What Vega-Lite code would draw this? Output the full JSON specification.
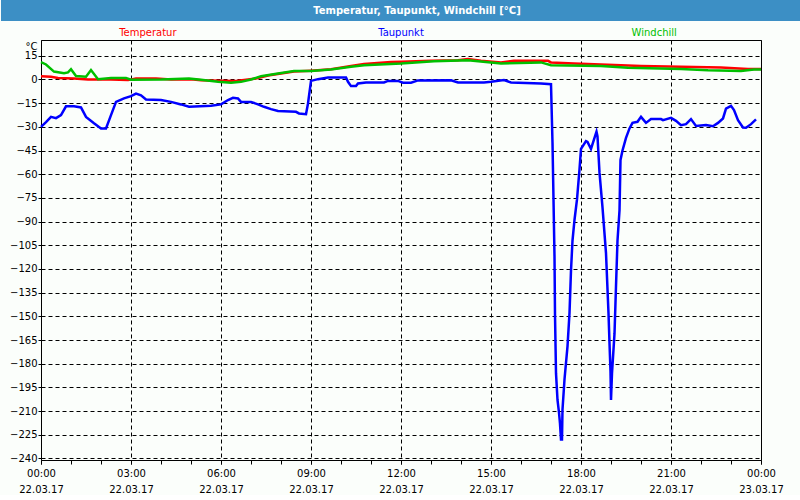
{
  "$schema": "https://vega.github.io/schema/vega-lite/v6.json",
  "background": "#fbfefb",
  "padding": 0,
  "spacing": 0,
  "bounds": "flush",
  "center": true,
  "config": {"font": "DejaVu Sans", "view": {"stroke": null}},
  "datasets": {
    "names": [{"s": "Temperatur"}, {"s": "Taupunkt"}, {"s": "Windchill"}]
  },
  "vconcat": [
    {
      "width": 800,
      "height": 21,
      "view": {"fill": "#3c8fc5", "stroke": null},
      "data": {"values": [{"title": "Temperatur, Taupunkt, Windchill [°C]"}]},
      "mark": {"type": "text", "font": "DejaVu Sans", "fontWeight": "bold", "fontSize": 10, "color": "#ffffff", "dx": 16, "baseline": "middle"},
      "encoding": {"text": {"field": "title", "type": "nominal"}}
    },
    {
      "width": 800,
      "height": 19,
      "view": {"fill": "#fbfefb", "stroke": null},
      "data": {"name": "names"},
      "mark": {"type": "text", "font": "DejaVu Sans", "fontSize": 10, "baseline": "middle", "dy": 2.5},
      "encoding": {
        "x": {"field": "s", "type": "nominal", "sort": null, "scale": {"type": "point", "padding": 0.58}, "axis": null},
        "text": {"field": "s", "type": "nominal"},
        "color": {"field": "s", "type": "nominal", "legend": null, "scale": {"domain": ["Temperatur", "Taupunkt", "Windchill"], "range": ["#ff0000", "#0000ff", "#00c000"]}}
      }
    },
    {
      "width": 720,
      "height": 420,
      "view": {"stroke": "#000000", "strokeWidth": 1},
      "resolve": {"axis": {"x": "independent"}},
      "data": {"values": [
        {"t": "2017-03-22T00:00", "s": "Temperatur", "v": 2.1},
        {"t": "2017-03-22T00:20", "s": "Temperatur", "v": 1.7},
        {"t": "2017-03-22T00:34", "s": "Temperatur", "v": 1.0},
        {"t": "2017-03-22T01:06", "s": "Temperatur", "v": 0.6},
        {"t": "2017-03-22T01:34", "s": "Temperatur", "v": 0.0},
        {"t": "2017-03-22T02:20", "s": "Temperatur", "v": 0.0},
        {"t": "2017-03-22T02:54", "s": "Temperatur", "v": -0.4},
        {"t": "2017-03-22T03:10", "s": "Temperatur", "v": 0.6},
        {"t": "2017-03-22T03:50", "s": "Temperatur", "v": 0.6},
        {"t": "2017-03-22T04:20", "s": "Temperatur", "v": 0.0},
        {"t": "2017-03-22T05:00", "s": "Temperatur", "v": 0.2},
        {"t": "2017-03-22T05:20", "s": "Temperatur", "v": -0.5},
        {"t": "2017-03-22T06:00", "s": "Temperatur", "v": -0.8},
        {"t": "2017-03-22T06:30", "s": "Temperatur", "v": -1.0},
        {"t": "2017-03-22T06:50", "s": "Temperatur", "v": -0.2},
        {"t": "2017-03-22T07:10", "s": "Temperatur", "v": 0.6},
        {"t": "2017-03-22T07:34", "s": "Temperatur", "v": 2.5},
        {"t": "2017-03-22T08:00", "s": "Temperatur", "v": 3.8},
        {"t": "2017-03-22T08:26", "s": "Temperatur", "v": 5.0},
        {"t": "2017-03-22T09:00", "s": "Temperatur", "v": 5.6},
        {"t": "2017-03-22T09:40", "s": "Temperatur", "v": 6.5},
        {"t": "2017-03-22T10:20", "s": "Temperatur", "v": 8.5},
        {"t": "2017-03-22T10:46", "s": "Temperatur", "v": 9.8},
        {"t": "2017-03-22T11:40", "s": "Temperatur", "v": 11.0},
        {"t": "2017-03-22T12:00", "s": "Temperatur", "v": 11.3},
        {"t": "2017-03-22T13:00", "s": "Temperatur", "v": 11.8},
        {"t": "2017-03-22T13:54", "s": "Temperatur", "v": 12.2},
        {"t": "2017-03-22T14:14", "s": "Temperatur", "v": 12.9},
        {"t": "2017-03-22T14:40", "s": "Temperatur", "v": 11.8},
        {"t": "2017-03-22T15:20", "s": "Temperatur", "v": 10.8},
        {"t": "2017-03-22T15:46", "s": "Temperatur", "v": 11.8},
        {"t": "2017-03-22T16:54", "s": "Temperatur", "v": 11.8},
        {"t": "2017-03-22T17:00", "s": "Temperatur", "v": 10.8},
        {"t": "2017-03-22T17:46", "s": "Temperatur", "v": 10.1},
        {"t": "2017-03-22T18:40", "s": "Temperatur", "v": 9.5},
        {"t": "2017-03-22T20:00", "s": "Temperatur", "v": 8.6},
        {"t": "2017-03-22T21:20", "s": "Temperatur", "v": 8.0},
        {"t": "2017-03-22T22:40", "s": "Temperatur", "v": 7.6},
        {"t": "2017-03-22T23:34", "s": "Temperatur", "v": 6.7},
        {"t": "2017-03-23T00:00", "s": "Temperatur", "v": 6.7},

        {"t": "2017-03-22T00:00", "s": "Taupunkt", "v": -30},
        {"t": "2017-03-22T00:10", "s": "Taupunkt", "v": -27},
        {"t": "2017-03-22T00:20", "s": "Taupunkt", "v": -23.7},
        {"t": "2017-03-22T00:30", "s": "Taupunkt", "v": -24.5},
        {"t": "2017-03-22T00:40", "s": "Taupunkt", "v": -22.6},
        {"t": "2017-03-22T00:50", "s": "Taupunkt", "v": -17},
        {"t": "2017-03-22T01:06", "s": "Taupunkt", "v": -17},
        {"t": "2017-03-22T01:20", "s": "Taupunkt", "v": -17.7},
        {"t": "2017-03-22T01:30", "s": "Taupunkt", "v": -23.7},
        {"t": "2017-03-22T01:46", "s": "Taupunkt", "v": -27.7},
        {"t": "2017-03-22T02:00", "s": "Taupunkt", "v": -31},
        {"t": "2017-03-22T02:10", "s": "Taupunkt", "v": -31},
        {"t": "2017-03-22T02:20", "s": "Taupunkt", "v": -22.6},
        {"t": "2017-03-22T02:30", "s": "Taupunkt", "v": -14.2},
        {"t": "2017-03-22T02:46", "s": "Taupunkt", "v": -12},
        {"t": "2017-03-22T03:00", "s": "Taupunkt", "v": -10.6},
        {"t": "2017-03-22T03:10", "s": "Taupunkt", "v": -8.9},
        {"t": "2017-03-22T03:20", "s": "Taupunkt", "v": -10},
        {"t": "2017-03-22T03:30", "s": "Taupunkt", "v": -12.7},
        {"t": "2017-03-22T04:00", "s": "Taupunkt", "v": -13},
        {"t": "2017-03-22T04:20", "s": "Taupunkt", "v": -14.2},
        {"t": "2017-03-22T04:40", "s": "Taupunkt", "v": -15.8},
        {"t": "2017-03-22T04:56", "s": "Taupunkt", "v": -17.3},
        {"t": "2017-03-22T05:40", "s": "Taupunkt", "v": -16.7},
        {"t": "2017-03-22T06:00", "s": "Taupunkt", "v": -15.8},
        {"t": "2017-03-22T06:14", "s": "Taupunkt", "v": -13},
        {"t": "2017-03-22T06:24", "s": "Taupunkt", "v": -11.6},
        {"t": "2017-03-22T06:34", "s": "Taupunkt", "v": -12},
        {"t": "2017-03-22T06:40", "s": "Taupunkt", "v": -14.2},
        {"t": "2017-03-22T07:00", "s": "Taupunkt", "v": -14.2},
        {"t": "2017-03-22T07:14", "s": "Taupunkt", "v": -15.8},
        {"t": "2017-03-22T07:26", "s": "Taupunkt", "v": -17.3},
        {"t": "2017-03-22T07:40", "s": "Taupunkt", "v": -18.8},
        {"t": "2017-03-22T07:54", "s": "Taupunkt", "v": -20},
        {"t": "2017-03-22T08:30", "s": "Taupunkt", "v": -20.5},
        {"t": "2017-03-22T08:36", "s": "Taupunkt", "v": -21.5},
        {"t": "2017-03-22T08:50", "s": "Taupunkt", "v": -22},
        {"t": "2017-03-22T08:54", "s": "Taupunkt", "v": -15.2},
        {"t": "2017-03-22T09:00", "s": "Taupunkt", "v": -0.9},
        {"t": "2017-03-22T09:14", "s": "Taupunkt", "v": 0.2},
        {"t": "2017-03-22T09:34", "s": "Taupunkt", "v": 1.3},
        {"t": "2017-03-22T10:10", "s": "Taupunkt", "v": 1.3},
        {"t": "2017-03-22T10:14", "s": "Taupunkt", "v": -1.5},
        {"t": "2017-03-22T10:20", "s": "Taupunkt", "v": -4.2},
        {"t": "2017-03-22T10:30", "s": "Taupunkt", "v": -4.2},
        {"t": "2017-03-22T10:34", "s": "Taupunkt", "v": -2.5},
        {"t": "2017-03-22T10:50", "s": "Taupunkt", "v": -1.9},
        {"t": "2017-03-22T11:26", "s": "Taupunkt", "v": -1.9},
        {"t": "2017-03-22T11:34", "s": "Taupunkt", "v": -0.9},
        {"t": "2017-03-22T11:54", "s": "Taupunkt", "v": -0.9},
        {"t": "2017-03-22T12:04", "s": "Taupunkt", "v": -2.1},
        {"t": "2017-03-22T12:20", "s": "Taupunkt", "v": -2.1},
        {"t": "2017-03-22T12:34", "s": "Taupunkt", "v": -0.6},
        {"t": "2017-03-22T13:40", "s": "Taupunkt", "v": -0.5},
        {"t": "2017-03-22T13:54", "s": "Taupunkt", "v": -1.9},
        {"t": "2017-03-22T14:46", "s": "Taupunkt", "v": -1.9},
        {"t": "2017-03-22T15:00", "s": "Taupunkt", "v": -1.5},
        {"t": "2017-03-22T15:26", "s": "Taupunkt", "v": -0.4},
        {"t": "2017-03-22T15:40", "s": "Taupunkt", "v": -1.9},
        {"t": "2017-03-22T16:40", "s": "Taupunkt", "v": -2.5},
        {"t": "2017-03-22T17:00", "s": "Taupunkt", "v": -3},
        {"t": "2017-03-22T17:03", "s": "Taupunkt", "v": -40},
        {"t": "2017-03-22T17:05", "s": "Taupunkt", "v": -76},
        {"t": "2017-03-22T17:07", "s": "Taupunkt", "v": -112},
        {"t": "2017-03-22T17:08", "s": "Taupunkt", "v": -149},
        {"t": "2017-03-22T17:10", "s": "Taupunkt", "v": -186},
        {"t": "2017-03-22T17:13", "s": "Taupunkt", "v": -203},
        {"t": "2017-03-22T17:16", "s": "Taupunkt", "v": -211},
        {"t": "2017-03-22T17:18", "s": "Taupunkt", "v": -218},
        {"t": "2017-03-22T17:20", "s": "Taupunkt", "v": -228},
        {"t": "2017-03-22T17:22", "s": "Taupunkt", "v": -228},
        {"t": "2017-03-22T17:23", "s": "Taupunkt", "v": -209},
        {"t": "2017-03-22T17:27", "s": "Taupunkt", "v": -190},
        {"t": "2017-03-22T17:33", "s": "Taupunkt", "v": -169},
        {"t": "2017-03-22T17:37", "s": "Taupunkt", "v": -148},
        {"t": "2017-03-22T17:40", "s": "Taupunkt", "v": -121},
        {"t": "2017-03-22T17:43", "s": "Taupunkt", "v": -102},
        {"t": "2017-03-22T17:47", "s": "Taupunkt", "v": -89},
        {"t": "2017-03-22T17:52", "s": "Taupunkt", "v": -76},
        {"t": "2017-03-22T17:57", "s": "Taupunkt", "v": -57},
        {"t": "2017-03-22T18:00", "s": "Taupunkt", "v": -44},
        {"t": "2017-03-22T18:10", "s": "Taupunkt", "v": -39},
        {"t": "2017-03-22T18:13", "s": "Taupunkt", "v": -39.5},
        {"t": "2017-03-22T18:20", "s": "Taupunkt", "v": -44},
        {"t": "2017-03-22T18:27", "s": "Taupunkt", "v": -37},
        {"t": "2017-03-22T18:31", "s": "Taupunkt", "v": -33},
        {"t": "2017-03-22T18:33", "s": "Taupunkt", "v": -36},
        {"t": "2017-03-22T18:37", "s": "Taupunkt", "v": -59},
        {"t": "2017-03-22T18:43", "s": "Taupunkt", "v": -81},
        {"t": "2017-03-22T18:50", "s": "Taupunkt", "v": -110},
        {"t": "2017-03-22T18:55", "s": "Taupunkt", "v": -148},
        {"t": "2017-03-22T18:57", "s": "Taupunkt", "v": -167},
        {"t": "2017-03-22T18:59", "s": "Taupunkt", "v": -185},
        {"t": "2017-03-22T19:00", "s": "Taupunkt", "v": -203},
        {"t": "2017-03-22T19:02", "s": "Taupunkt", "v": -186},
        {"t": "2017-03-22T19:07", "s": "Taupunkt", "v": -161},
        {"t": "2017-03-22T19:10", "s": "Taupunkt", "v": -131},
        {"t": "2017-03-22T19:13", "s": "Taupunkt", "v": -102},
        {"t": "2017-03-22T19:17", "s": "Taupunkt", "v": -83},
        {"t": "2017-03-22T19:19", "s": "Taupunkt", "v": -51},
        {"t": "2017-03-22T19:23", "s": "Taupunkt", "v": -45},
        {"t": "2017-03-22T19:30", "s": "Taupunkt", "v": -37},
        {"t": "2017-03-22T19:37", "s": "Taupunkt", "v": -31},
        {"t": "2017-03-22T19:43", "s": "Taupunkt", "v": -27.5},
        {"t": "2017-03-22T19:53", "s": "Taupunkt", "v": -26.8},
        {"t": "2017-03-22T20:00", "s": "Taupunkt", "v": -23.7},
        {"t": "2017-03-22T20:10", "s": "Taupunkt", "v": -27.5},
        {"t": "2017-03-22T20:20", "s": "Taupunkt", "v": -25.1},
        {"t": "2017-03-22T20:40", "s": "Taupunkt", "v": -25.1},
        {"t": "2017-03-22T20:44", "s": "Taupunkt", "v": -25.8},
        {"t": "2017-03-22T21:00", "s": "Taupunkt", "v": -24.3},
        {"t": "2017-03-22T21:10", "s": "Taupunkt", "v": -26.2},
        {"t": "2017-03-22T21:20", "s": "Taupunkt", "v": -28.9},
        {"t": "2017-03-22T21:30", "s": "Taupunkt", "v": -28.3},
        {"t": "2017-03-22T21:40", "s": "Taupunkt", "v": -25.1},
        {"t": "2017-03-22T21:50", "s": "Taupunkt", "v": -29.4},
        {"t": "2017-03-22T22:10", "s": "Taupunkt", "v": -28.9},
        {"t": "2017-03-22T22:24", "s": "Taupunkt", "v": -29.6},
        {"t": "2017-03-22T22:34", "s": "Taupunkt", "v": -27.5},
        {"t": "2017-03-22T22:44", "s": "Taupunkt", "v": -24.7},
        {"t": "2017-03-22T22:50", "s": "Taupunkt", "v": -18.4},
        {"t": "2017-03-22T23:00", "s": "Taupunkt", "v": -16.7},
        {"t": "2017-03-22T23:06", "s": "Taupunkt", "v": -19.4},
        {"t": "2017-03-22T23:14", "s": "Taupunkt", "v": -25.8},
        {"t": "2017-03-22T23:24", "s": "Taupunkt", "v": -30.4},
        {"t": "2017-03-22T23:30", "s": "Taupunkt", "v": -30.6},
        {"t": "2017-03-22T23:40", "s": "Taupunkt", "v": -28.3},
        {"t": "2017-03-22T23:50", "s": "Taupunkt", "v": -25.3},

        {"t": "2017-03-22T00:00", "s": "Windchill", "v": 11},
        {"t": "2017-03-22T00:10", "s": "Windchill", "v": 9.5},
        {"t": "2017-03-22T00:26", "s": "Windchill", "v": 5.0},
        {"t": "2017-03-22T00:46", "s": "Windchill", "v": 4.0},
        {"t": "2017-03-22T00:54", "s": "Windchill", "v": 4.5},
        {"t": "2017-03-22T01:00", "s": "Windchill", "v": 6.5},
        {"t": "2017-03-22T01:10", "s": "Windchill", "v": 2.2},
        {"t": "2017-03-22T01:30", "s": "Windchill", "v": 1.7},
        {"t": "2017-03-22T01:40", "s": "Windchill", "v": 6.0},
        {"t": "2017-03-22T01:54", "s": "Windchill", "v": 0.2},
        {"t": "2017-03-22T02:20", "s": "Windchill", "v": 1.0},
        {"t": "2017-03-22T02:50", "s": "Windchill", "v": 1.0},
        {"t": "2017-03-22T03:00", "s": "Windchill", "v": -0.2},
        {"t": "2017-03-22T04:00", "s": "Windchill", "v": 0.0},
        {"t": "2017-03-22T04:56", "s": "Windchill", "v": 0.6},
        {"t": "2017-03-22T05:20", "s": "Windchill", "v": -0.2},
        {"t": "2017-03-22T05:54", "s": "Windchill", "v": -1.5},
        {"t": "2017-03-22T06:20", "s": "Windchill", "v": -2.1},
        {"t": "2017-03-22T06:40", "s": "Windchill", "v": -1.5},
        {"t": "2017-03-22T07:00", "s": "Windchill", "v": 0.0},
        {"t": "2017-03-22T07:20", "s": "Windchill", "v": 2.0},
        {"t": "2017-03-22T07:54", "s": "Windchill", "v": 3.8},
        {"t": "2017-03-22T08:26", "s": "Windchill", "v": 5.4},
        {"t": "2017-03-22T09:00", "s": "Windchill", "v": 5.4},
        {"t": "2017-03-22T09:40", "s": "Windchill", "v": 6.3},
        {"t": "2017-03-22T10:20", "s": "Windchill", "v": 8.0},
        {"t": "2017-03-22T10:46", "s": "Windchill", "v": 9.0},
        {"t": "2017-03-22T12:00", "s": "Windchill", "v": 10.1},
        {"t": "2017-03-22T13:06", "s": "Windchill", "v": 11.6},
        {"t": "2017-03-22T14:14", "s": "Windchill", "v": 12.2},
        {"t": "2017-03-22T15:20", "s": "Windchill", "v": 10.1},
        {"t": "2017-03-22T16:40", "s": "Windchill", "v": 10.8},
        {"t": "2017-03-22T17:00", "s": "Windchill", "v": 9.0},
        {"t": "2017-03-22T18:40", "s": "Windchill", "v": 8.6},
        {"t": "2017-03-22T19:34", "s": "Windchill", "v": 7.4},
        {"t": "2017-03-22T21:20", "s": "Windchill", "v": 6.7},
        {"t": "2017-03-22T22:14", "s": "Windchill", "v": 5.9},
        {"t": "2017-03-22T23:20", "s": "Windchill", "v": 5.4},
        {"t": "2017-03-22T23:46", "s": "Windchill", "v": 6.3},
        {"t": "2017-03-23T00:00", "s": "Windchill", "v": 6.3}
      ]},
      "layer": [
        {
          "mark": {"type": "point", "opacity": 0},
          "encoding": {
            "x": {
              "field": "t",
              "type": "temporal",
              "scale": {"domain": [{"year": 2017, "month": 3, "date": 22, "hours": 0}, {"year": 2017, "month": 3, "date": 23, "hours": 0}], "nice": false},
              "axis": {
                "title": null,
                "orient": "bottom",
                "values": [
                  {"year": 2017, "month": 3, "date": 22, "hours": 0},
                  {"year": 2017, "month": 3, "date": 22, "hours": 1},
                  {"year": 2017, "month": 3, "date": 22, "hours": 2},
                  {"year": 2017, "month": 3, "date": 22, "hours": 3},
                  {"year": 2017, "month": 3, "date": 22, "hours": 4},
                  {"year": 2017, "month": 3, "date": 22, "hours": 5},
                  {"year": 2017, "month": 3, "date": 22, "hours": 6},
                  {"year": 2017, "month": 3, "date": 22, "hours": 7},
                  {"year": 2017, "month": 3, "date": 22, "hours": 8},
                  {"year": 2017, "month": 3, "date": 22, "hours": 9},
                  {"year": 2017, "month": 3, "date": 22, "hours": 10},
                  {"year": 2017, "month": 3, "date": 22, "hours": 11},
                  {"year": 2017, "month": 3, "date": 22, "hours": 12},
                  {"year": 2017, "month": 3, "date": 22, "hours": 13},
                  {"year": 2017, "month": 3, "date": 22, "hours": 14},
                  {"year": 2017, "month": 3, "date": 22, "hours": 15},
                  {"year": 2017, "month": 3, "date": 22, "hours": 16},
                  {"year": 2017, "month": 3, "date": 22, "hours": 17},
                  {"year": 2017, "month": 3, "date": 22, "hours": 18},
                  {"year": 2017, "month": 3, "date": 22, "hours": 19},
                  {"year": 2017, "month": 3, "date": 22, "hours": 20},
                  {"year": 2017, "month": 3, "date": 22, "hours": 21},
                  {"year": 2017, "month": 3, "date": 22, "hours": 22},
                  {"year": 2017, "month": 3, "date": 22, "hours": 23},
                  {"year": 2017, "month": 3, "date": 23, "hours": 0}
                ],
                "tickSize": 4,
                "tickColor": "#000000",
                "domain": false,
                "grid": false,
                "labels": false
              }
            }
          }
        },
        {
          "mark": {"type": "line", "strokeWidth": 2.5},
          "encoding": {
            "x": {
              "field": "t",
              "type": "temporal",
              "scale": {"domain": [{"year": 2017, "month": 3, "date": 22, "hours": 0}, {"year": 2017, "month": 3, "date": 23, "hours": 0}], "nice": false},
              "axis": {
                "title": null,
                "orient": "bottom",
                "values": [
                  {"year": 2017, "month": 3, "date": 22, "hours": 0},
                  {"year": 2017, "month": 3, "date": 22, "hours": 3},
                  {"year": 2017, "month": 3, "date": 22, "hours": 6},
                  {"year": 2017, "month": 3, "date": 22, "hours": 9},
                  {"year": 2017, "month": 3, "date": 22, "hours": 12},
                  {"year": 2017, "month": 3, "date": 22, "hours": 15},
                  {"year": 2017, "month": 3, "date": 22, "hours": 18},
                  {"year": 2017, "month": 3, "date": 22, "hours": 21},
                  {"year": 2017, "month": 3, "date": 23, "hours": 0}
                ],
                "tickSize": 4,
                "tickColor": "#000000",
                "domain": false,
                "grid": true,
                "gridColor": "#000000",
                "gridDash": [4, 3],
                "labelExpr": "[timeFormat(datum.value, '%H:%M'), timeFormat(datum.value, '%d.%m.%y')]",
                "labelOverlap": false,
                "labelFlush": false,
                "labelBound": false,
                "labelFont": "DejaVu Sans",
                "labelFontSize": 10,
                "labelColor": "#000000",
                "labelPadding": 4,
                "labelLineHeight": 16,
                "labelBaseline": "top"
              }
            },
            "y": {
              "field": "v",
              "type": "quantitative",
              "scale": {"domain": [-241, 25], "nice": false, "zero": false},
              "axis": {
                "values": [-240, -225, -210, -195, -180, -165, -150, -135, -120, -105, -90, -75, -60, -45, -30, -15, 0, 15],
                "title": "°C",
                "titleAngle": 0,
                "titleAlign": "right",
                "titleBaseline": "middle",
                "titleX": -4,
                "titleY": 6,
                "titleFont": "DejaVu Sans",
                "titleFontSize": 10,
                "titleFontWeight": "normal",
                "titleColor": "#000000",
                "minExtent": 40,
                "maxExtent": 40,
                "grid": true,
                "gridColor": "#000000",
                "gridDash": [4, 3],
                "domain": false,
                "tickSize": 3,
                "tickColor": "#000000",
                "labelFont": "DejaVu Sans",
                "labelFontSize": 10,
                "labelColor": "#000000",
                "labelPadding": 1,
                "labelBaseline": "middle"
              }
            },
            "color": {
              "field": "s",
              "type": "nominal",
              "legend": null,
              "scale": {"domain": ["Temperatur", "Taupunkt", "Windchill"], "range": ["#ff0000", "#0000ff", "#00c000"]}
            }
          }
        }
      ]
    }
  ]
}
